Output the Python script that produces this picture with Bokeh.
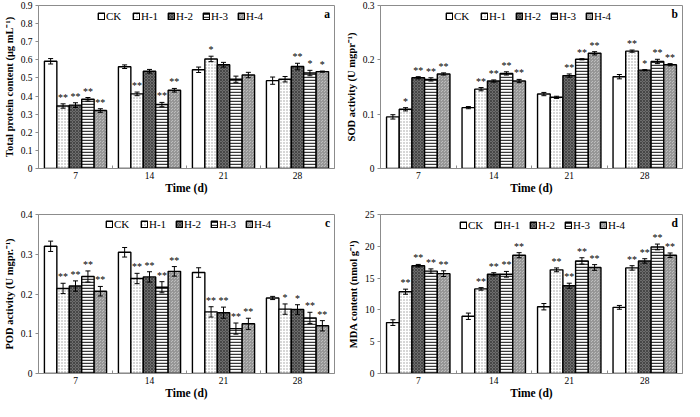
import numpy as np
from bokeh.plotting import figure
from bokeh.layouts import gridplot
from bokeh.models import (ColumnDataSource, Whisker, TeeHead, FixedTicker,
                          Range1d, Label)
from bokeh.core.properties import value
from bokeh.embed import file_html
from bokeh.resources import INLINE

# ---------------- data ----------------
days = ["7", "14", "21", "28"]
series = ["CK", "H-1", "H-2", "H-3", "H-4"]

# (a) total protein content, one row per series, one column per day
protein_mean = [[0.592, 0.562, 0.545, 0.485],
                [0.345, 0.412, 0.605, 0.493],
                [0.350, 0.537, 0.573, 0.563],
                [0.382, 0.353, 0.493, 0.527],
                [0.320, 0.432, 0.516, 0.535]]
protein_err = [[0.015, 0.010, 0.015, 0.020],
               [0.012, 0.010, 0.015, 0.015],
               [0.013, 0.010, 0.013, 0.018],
               [0.010, 0.012, 0.017, 0.015],
               [0.010, 0.010, 0.015, 0.003]]
protein_sig = [["", "", "", ""],
               ["**", "**", "*", ""],
               ["**", "", "", "**"],
               ["**", "**", "", "*"],
               ["**", "**", "", "*"]]

# (b) SOD activity
sod_mean = [[0.095, 0.112, 0.137, 0.169],
            [0.109, 0.146, 0.131, 0.216],
            [0.167, 0.161, 0.171, 0.181],
            [0.164, 0.175, 0.201, 0.197],
            [0.174, 0.161, 0.212, 0.191]]
sod_err = [[0.004, 0.002, 0.003, 0.004],
           [0.003, 0.003, 0.002, 0.002],
           [0.002, 0.002, 0.003, 0.001],
           [0.003, 0.003, 0.001, 0.004],
           [0.002, 0.003, 0.003, 0.002]]
sod_sig = [["", "", "", ""],
           ["*", "**", "", "**"],
           ["**", "**", "**", "*"],
           ["**", "**", "**", "**"],
           ["**", "**", "**", "**"]]

# (c) POD activity
pod_mean = [[0.320, 0.305, 0.254, 0.190],
            [0.214, 0.239, 0.155, 0.162],
            [0.220, 0.243, 0.153, 0.161],
            [0.244, 0.217, 0.113, 0.140],
            [0.207, 0.257, 0.125, 0.120]]
pod_err = [[0.013, 0.012, 0.012, 0.004],
           [0.013, 0.013, 0.013, 0.013],
           [0.013, 0.013, 0.014, 0.012],
           [0.014, 0.014, 0.014, 0.014],
           [0.012, 0.012, 0.014, 0.013]]
pod_sig = [["", "", "", ""],
           ["**", "**", "**", "*"],
           ["**", "**", "**", "*"],
           ["**", "**", "**", "**"],
           ["**", "**", "**", "**"]]

# (d) MDA content
mda_mean = [[8.0, 9.0, 10.5, 10.4],
            [12.86, 13.3, 16.3, 16.6],
            [16.95, 15.6, 13.8, 17.7],
            [16.1, 15.6, 17.7, 19.9],
            [15.7, 18.6, 16.67, 18.6]]
mda_err = [[0.45, 0.5, 0.5, 0.3],
           [0.4, 0.2, 0.3, 0.35],
           [0.2, 0.25, 0.4, 0.35],
           [0.35, 0.45, 0.5, 0.45],
           [0.45, 0.4, 0.45, 0.35]]
mda_sig = [["", "", "", ""],
           ["**", "**", "**", "**"],
           ["**", "**", "**", "**"],
           ["**", "**", "**", "**"],
           ["**", "**", "**", "**"]]

# ---------------- styles ----------------
FONT = "Liberation Serif"
GRAY = "#8c8c8c"
styles = [
    dict(fill_color="white"),
    dict(fill_color="white", hatch_pattern="dot", hatch_color="#9a9a9a",
         hatch_scale=3, hatch_weight=1),
    dict(fill_color="#6e6e6e", hatch_pattern="diagonal_cross", hatch_color="#474747",
         hatch_scale=3, hatch_weight=1),
    dict(fill_color="white", hatch_pattern="horizontal_line", hatch_color="#3a3a3a",
         hatch_scale=3, hatch_weight=1.5),
    dict(fill_color="#bdbdbd", hatch_pattern="criss_cross", hatch_color="#969696",
         hatch_scale=3, hatch_weight=1),
]
BAR_W = 0.168


def make_panel(mean, err, sig, ylabel, ymax, ystep, letter, height,
               borders, legend_xy):
    left, right, top, bottom = borders
    p = figure(width=342, height=height, x_range=Range1d(0, len(days)),
               y_range=Range1d(0, ymax), output_backend="svg",
               toolbar_location=None, min_border_left=left,
               min_border_right=right, min_border_top=top,
               min_border_bottom=bottom)
    p.xgrid.visible = False
    p.ygrid.visible = False
    p.outline_line_color = GRAY
    p.background_fill_color = "white"
    p.border_fill_color = "white"

    centers = np.arange(len(days)) + 0.5
    for j, name in enumerate(series):
        x = centers + (j - (len(series) - 1) / 2) * BAR_W
        m = np.array(mean[j])
        e = np.array(err[j])
        src = ColumnDataSource(dict(x=x, top=m, upper=m + e, lower=m - e,
                                    star=sig[j]))
        p.vbar(x="x", top="top", width=BAR_W, source=src, line_color="black",
               line_width=1.4, legend_label=name, **styles[j])
        w = Whisker(source=src, base="x", upper="upper", lower="lower",
                    line_color="black", line_width=1,
                    upper_head=TeeHead(size=5, line_color="black", line_width=1),
                    lower_head=TeeHead(size=5, line_color="black", line_width=1))
        w.level = "overlay"
        p.add_layout(w)
        p.text(x="x", y="upper", text="star", source=src, text_align="center",
               text_baseline="bottom", text_font=value(FONT),
               text_font_size="10px", text_color="black", y_offset=-1)

    # x axis
    xa = p.xaxis[0]
    xa.ticker = FixedTicker(ticks=list(centers),
                            minor_ticks=list(np.arange(1, len(days))))
    xa.major_label_overrides = {float(c): d for c, d in zip(centers, days)}
    xa.major_tick_in = 0
    xa.major_tick_out = 0
    xa.minor_tick_in = 3
    xa.minor_tick_out = 0
    xa.minor_tick_line_color = GRAY
    xa.axis_line_color = GRAY
    xa.major_label_text_font = FONT
    xa.major_label_text_font_size = "9.5px"
    xa.major_label_text_color = "black"
    xa.major_label_standoff = 3
    xa.axis_label = "Time (d)"
    xa.axis_label_text_font = FONT
    xa.axis_label_text_font_style = "bold"
    xa.axis_label_text_font_size = "11.5px"
    xa.axis_label_text_color = "black"
    xa.axis_label_standoff = 0

    # y axis
    nt = int(round(ymax / ystep))
    yt = [round(i * ystep, 6) for i in range(nt + 1)]
    ya = p.yaxis[0]
    ya.ticker = FixedTicker(ticks=yt, minor_ticks=[])
    ya.major_label_overrides = {0: "0"}
    ya.major_tick_in = 0
    ya.major_tick_out = 3
    ya.major_tick_line_color = GRAY
    ya.axis_line_color = GRAY
    ya.major_label_text_font = FONT
    ya.major_label_text_font_size = "9.5px"
    ya.major_label_text_color = "black"
    ya.major_label_standoff = 3
    ya.axis_label = ylabel
    ya.axis_label_text_font = FONT
    ya.axis_label_text_font_style = "bold"
    ya.axis_label_text_font_size = "10.5px"
    ya.axis_label_text_color = "black"
    ya.axis_label_standoff = 3

    # legend
    lg = p.legend[0]
    lg.orientation = "horizontal"
    lg.location = legend_xy
    lg.border_line_color = None
    lg.background_fill_alpha = 0
    lg.label_text_font = FONT
    lg.label_text_font_size = "11px"
    lg.label_text_color = "black"
    lg.glyph_width = 8
    lg.glyph_height = 8
    lg.label_height = 12
    lg.label_standoff = 1
    lg.spacing = 6
    lg.padding = 0
    lg.margin = 0

    p.add_layout(Label(x=len(days) - 0.06, y=ymax * 0.985, text=letter,
                       text_align="right", text_baseline="top",
                       text_font=FONT, text_font_style="bold",
                       text_font_size="11.5px", text_color="black"))
    return p


pa = make_panel(protein_mean, protein_err, protein_sig,
                "Total protein content (μg mL⁻¹)", 0.9, 0.1, "a", 205,
                (33, 8, 5, 37), (59, 146))
pb = make_panel(sod_mean, sod_err, sod_sig,
                "SOD activity (U mgpr⁻¹)", 0.3, 0.1, "b", 205,
                (38, 2, 5, 37), (65, 146))
pc = make_panel(pod_mean, pod_err, pod_sig,
                "POD activity (U mgpr.⁻¹)", 0.4, 0.1, "c", 196,
                (32, 8, 9, 27), (67, 143))
pd_ = make_panel(mda_mean, mda_err, mda_sig,
                 "MDA content (nmol g⁻¹)", 25, 5, "d", 196,
                 (38, 2, 9, 27), (79, 142))

grid = gridplot([[pa, pb], [pc, pd_]], toolbar_location=None)

open("out.html", "w").write(file_html(grid, INLINE))
